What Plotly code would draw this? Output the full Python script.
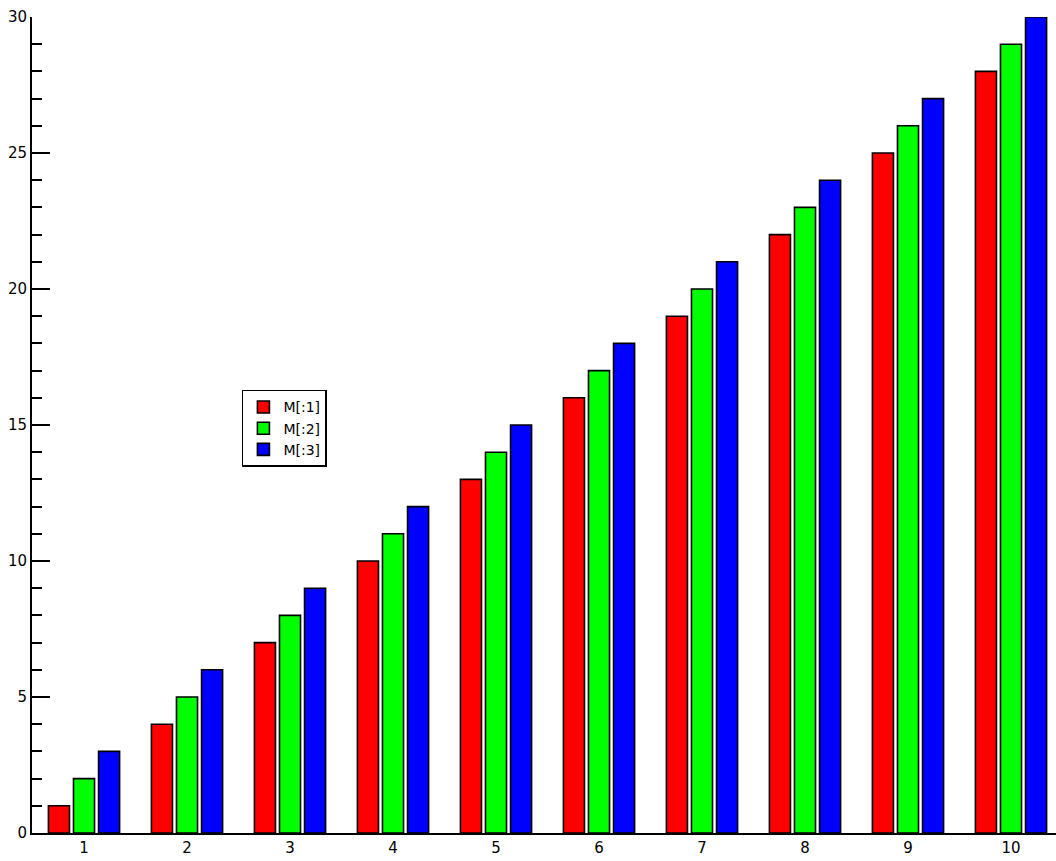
import plotly.graph_objects as go

categories = [1, 2, 3, 4, 5, 6, 7, 8, 9, 10]
m1 = [1, 4, 7, 10, 13, 16, 19, 22, 25, 28]
m2 = [2, 5, 8, 11, 14, 17, 20, 23, 26, 29]
m3 = [3, 6, 9, 12, 15, 18, 21, 24, 27, 30]
series_names = ["M[:1]", "M[:2]", "M[:3]"]
colors = ["#ff0000", "#00ff00", "#0000ff"]

fig = go.Figure()
for name, vals, col in zip(series_names, [m1, m2, m3], colors):
    fig.add_trace(go.Bar(
        x=categories, y=vals, name=name,
        marker=dict(color=col, line=dict(color="black", width=1.6)),
    ))

fig.update_layout(
    width=1056, height=861,
    margin=dict(l=32, r=0, t=17, b=28, autoexpand=False),
    paper_bgcolor="white", plot_bgcolor="white",
    barmode="group", bargap=0.27, bargroupgap=0.16,
    font=dict(family="DejaVu Sans", size=15, color="black"),
    showlegend=True,
    legend=dict(
        x=0.205, y=0.543, xanchor="left", yanchor="top",
        bordercolor="black", borderwidth=1.5, bgcolor="white",
        font=dict(size=14), tracegroupgap=0,
    ),
    xaxis=dict(
        range=[0.495, 10.437], tickmode="array", tickvals=categories,
        ticktext=[str(c) for c in categories],
        showgrid=False, zeroline=False, showline=True, linecolor="black", linewidth=2,
        ticks="", tickfont=dict(size=15), automargin=False,
    ),
    yaxis=dict(
        range=[0, 30], tickmode="linear", tick0=0, dtick=5,
        showgrid=False, zeroline=False, showline=True, linecolor="black", linewidth=2,
        ticks="inside", ticklen=18, tickwidth=1.5, tickcolor="black",
        ticklabelstandoff=0, automargin=False,
        minor=dict(dtick=1, ticks="inside", ticklen=10, tickwidth=1.5, tickcolor="black"),
        tickfont=dict(size=15),
    ),
)

fig.write_html("out.html", config={"displayModeBar": False},
               post_script="document.body.style.margin='0';")
